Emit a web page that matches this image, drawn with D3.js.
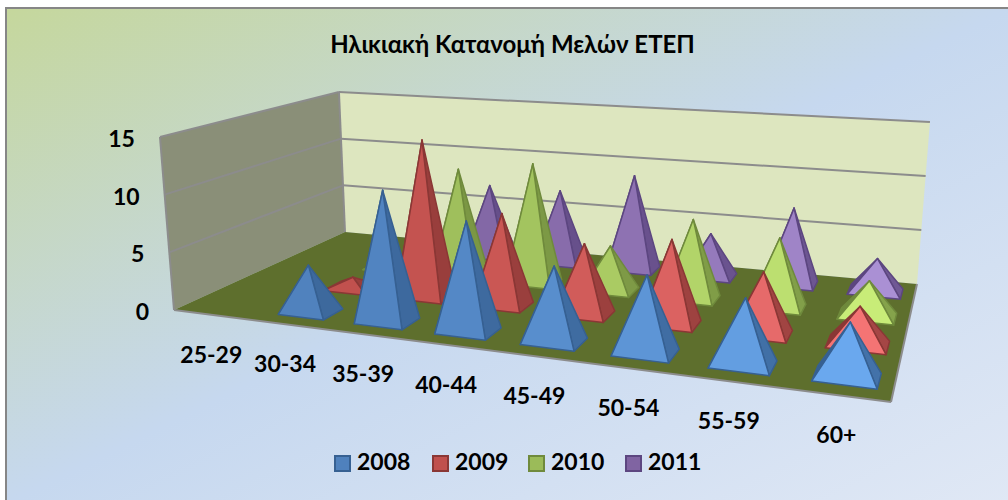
<!DOCTYPE html>
<html><head><meta charset="utf-8">
<script src="https://cdnjs.cloudflare.com/ajax/libs/d3/7.8.5/d3.min.js"></script>
<style>html,body{margin:0;padding:0;background:#fff;overflow:hidden}svg{display:block}text{font-family:Lato,"Noto Sans",sans-serif;font-weight:700;fill:#000}</style>
</head><body><svg id="c" width="1008" height="500"></svg>
<script>
const title = "Ηλικιακή Κατανομή Μελών ΕΤΕΠ";
const categories = ["25-29","30-34","35-39","40-44","45-49","50-54","55-59","60+"];
const years = ["2008","2009","2010","2011"];
const v2008 = [0,4,11,9,6,6,5,4];
const v2009 = [0,1,14,8,6,7,5,3];
const v2010 = [0,1,10,11,4,7,6,3];
const v2011 = [0,0,7,7,9,4,7,3];
const yTicks = [0,5,10,15];
const seriesValues = [v2008,v2009,v2010,v2011];
const baseCols = ["#4f81bd","#c0504d","#9bbb59","#8064a2"];
const lightCols = ["#6aa8ee","#f47474","#c8ec78","#aa90d4"];
const darkCols = ["#366092","#8a3735","#6f8a3c","#5c4680"];

// projection frame (layout)
const FL=[174,310],BL=[345,232],BR=[917,284],FR=[891,402];
const FLt=[160,137],BLt=[338,92],BRt=[930,122],FRt=[908,183];
const VP=[547,4912]; // vanishing point of the vertical direction
function quadMap(p0,p1,p2,p3){
  const dx1=p1[0]-p2[0],dx2=p3[0]-p2[0],sx=p0[0]-p1[0]+p2[0]-p3[0];
  const dy1=p1[1]-p2[1],dy2=p3[1]-p2[1],sy=p0[1]-p1[1]+p2[1]-p3[1];
  const d=dx1*dy2-dx2*dy1,g=(sx*dy2-dx2*sy)/d,h=(dx1*sy-sx*dy1)/d;
  const a=p1[0]-p0[0]+g*p1[0],b=p3[0]-p0[0]+h*p3[0],c=p0[0];
  const e=p1[1]-p0[1]+g*p1[1],f=p3[1]-p0[1]+h*p3[1],i=p0[1];
  return (u,v)=>{const w=g*u+h*v+1;return [(a*u+b*v+c)/w,(e*u+f*v+i)/w];};
}
const floorMap=quadMap(FL,FR,BR,BL), topMap=quadMap(FLt,FRt,BRt,BLt);
const yScale=d3.scaleLinear().domain([0,15]).range([0,1]);
const uScale=d3.scaleBand().domain(categories).range([0,1]);
const vScale=d3.scaleBand().domain(years).range([0,1]);
function project(u,v,val){
  const a=floorMap(u,v),b=topMap(u,v);
  const H=(a[1]-b[1])*yScale(val);
  const lean=(VP[0]-a[0])/(VP[1]-a[1]);
  return [a[0]-lean*H,a[1]-H];
}
const svg=d3.select("#c");
const defs=svg.append("defs");
const g=defs.append("linearGradient").attr("id","bg").attr("x1","0").attr("y1","0").attr("x2","1").attr("y2","1");
[[0,"#c5d79c"],[0.5,"#c6d8ef"],[1,"#e0e8f5"]].forEach(s=>g.append("stop").attr("offset",s[0]).attr("stop-color",s[1]));
svg.append("rect").attr("x",6).attr("y",8).attr("width",1006).attr("height",496).attr("fill","url(#bg)").attr("stroke","#868686").attr("stroke-width",2);
svg.append("text").attr("x",512.5).attr("y",53).attr("text-anchor","middle").attr("font-size",24).text(title);

const line=d3.line();
const poly=(pts,fill,stroke,sw)=>svg.append("path").attr("d",line(pts)+"Z").attr("fill",fill).attr("stroke",stroke||"none").attr("stroke-width",sw||0).attr("stroke-linejoin","round");
const wallEdge="#8c8c8c";
poly([project(0,1,0),project(1,1,0),project(1,1,15),project(0,1,15)],"#dde6bf");
poly([project(0,0,0),project(0,1,0),project(0,1,15),project(0,0,15)],"#8a8f78");
poly([project(0,0,0),project(1,0,0),project(1,1,0),project(0,1,0)],"#5e6f2d");
const seg=(a,b)=>svg.append("path").attr("d",line([a,b])).attr("stroke",wallEdge).attr("stroke-width",2).attr("fill","none");
yTicks.slice(1).forEach(t=>{
  seg(project(0,0,t),project(0,1,t));
  seg(project(0,1,t),project(1,1,t));
});
seg(project(0,0,0),project(0,0,15));
seg(project(0,0,0),project(1,0,0));
seg(project(1,0,0),project(1,1,0));
seg(project(0,1,15),project(0,1,0));

yTicks.forEach(t=>{
  const p=project(0,0,t);
  svg.append("text").attr("x",p[0]-25).attr("y",p[1]+10).attr("text-anchor","end").attr("font-size",23).text(t);
});
categories.forEach(c=>{
  const p=project(uScale(c)+uScale.bandwidth()/2,0,0);
  svg.append("text").attr("x",p[0]+2).attr("y",p[1]+48).attr("text-anchor","middle").attr("font-size",23).text(c);
});
const color=(s,i)=>d3.interpolateRgb(baseCols[s],lightCols[s])(Math.pow(i/(categories.length-1),2));
const fracU=0.6,fracV=0.44,shiftU=0.007;
d3.range(years.length-1,-1,-1).forEach(s=>{
  categories.forEach((c,i)=>{
    const val=seriesValues[s][i]; if(!val) return;
    const uc=uScale(c)+uScale.bandwidth()/2+shiftU, vc=vScale(years[s])+vScale.bandwidth()/2;
    const du=uScale.bandwidth()*fracU/2, dv=vScale.bandwidth()*fracV/2;
    const a=project(uc-du,vc-dv,0),b=project(uc+du,vc-dv,0),cc=project(uc+du,vc+dv,0),d=project(uc-du,vc+dv,0);
    const apex=project(uc,vc,val);
    poly([d,a,apex],darkCols[s],darkCols[s],1.5);
    poly([b,cc,apex],d3.interpolateRgb(darkCols[s],color(s,i))(0.25),darkCols[s],1.5);
    poly([a,b,apex],color(s,i),darkCols[s],1.5);
  });
});
const legendX=[334,432,528,625];
years.forEach((y,i)=>{
  svg.append("rect").attr("x",legendX[i]+1).attr("y",456).attr("width",15).attr("height",15).attr("fill",baseCols[i]).attr("stroke",darkCols[i]).attr("stroke-width",2);
  svg.append("text").attr("x",legendX[i]+23).attr("y",470).attr("font-size",23).text(y);
});
</script></body></html>
